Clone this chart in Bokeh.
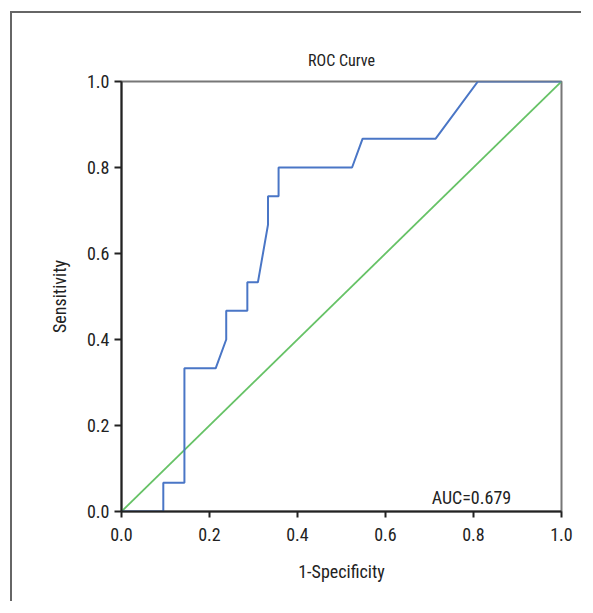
from bokeh.plotting import figure
from bokeh.models import Range1d, FixedTicker, Label
from bokeh.embed import file_html
from bokeh.resources import INLINE

# ROC curve points (1-Specificity, Sensitivity)
fpr = [0.0, 0.095, 0.095, 0.143, 0.143, 0.214, 0.238, 0.238, 0.286, 0.286,
       0.310, 0.333, 0.333, 0.357, 0.357, 0.524, 0.548, 0.714, 0.810, 1.0]
tpr = [0.0, 0.0, 0.067, 0.067, 0.333, 0.333, 0.400, 0.467, 0.467, 0.533,
       0.533, 0.667, 0.733, 0.733, 0.800, 0.800, 0.867, 0.867, 1.0, 1.0]
# reference (chance) line
ref_x = [0.0, 1.0]
ref_y = [0.0, 1.0]
auc = [0.679]
tick_values = [0.0, 0.2, 0.4, 0.6, 0.8, 1.0]
tick_labels = ["0.0", "0.2", "0.4", "0.6", "0.8", "1.0"]

FONT = "Roboto Condensed"
TXT = "#222222"

p = figure(width=571, height=590, output_backend="svg", toolbar_location=None,
           x_range=Range1d(0, 1), y_range=Range1d(0, 1),
           min_border_left=109, min_border_right=22,
           min_border_top=68, min_border_bottom=92,
           title="ROC Curve")
p.styles = {"border-top": "2px solid #666666", "border-left": "2px solid #666666",
            "margin-left": "10px", "margin-top": "11px"}

p.title.align = "center"
p.title.text_font = FONT
p.title.text_font_size = "16px"
p.title.text_font_style = "normal"
p.title.text_color = TXT
p.title.standoff = 24

p.grid.visible = False
p.outline_line_color = "#777777"
p.outline_line_width = 2

for ax in (p.xaxis[0], p.yaxis[0]):
    ax.ticker = FixedTicker(ticks=tick_values)
    ax.major_label_overrides = dict(zip(tick_values, tick_labels))
    ax.minor_tick_line_color = None
    ax.axis_line_color = "#222222"
    ax.axis_line_width = 2
    ax.major_tick_line_color = "#222222"
    ax.major_tick_line_width = 2
    ax.major_tick_in = 0
    ax.major_label_text_font = FONT
    ax.major_label_text_font_size = "18px"
    ax.major_label_text_color = TXT
    ax.axis_label_text_font = FONT
    ax.axis_label_text_font_size = "18px"
    ax.axis_label_text_font_style = "normal"
    ax.axis_label_text_color = TXT

p.xaxis.axis_label = "1-Specificity"
p.yaxis.axis_label = "Sensitivity"
p.xaxis.major_tick_out = 6
p.yaxis.major_tick_out = 7
p.xaxis.major_label_standoff = 10
p.yaxis.major_label_standoff = 5
p.xaxis.axis_label_standoff = 17
p.yaxis.axis_label_standoff = 14

p.line(ref_x, ref_y, line_color="#66c266", line_width=1.8)
p.line(fpr, tpr, line_color="#4a76c6", line_width=2)

p.add_layout(Label(x=0.705, y=0.033, text=f"AUC={auc[0]:.3f}",
                   text_font=FONT, text_font_size="18px", text_color=TXT,
                   text_align="left", text_baseline="alphabetic"))

open("out.html", "w").write(file_html(p, INLINE))
